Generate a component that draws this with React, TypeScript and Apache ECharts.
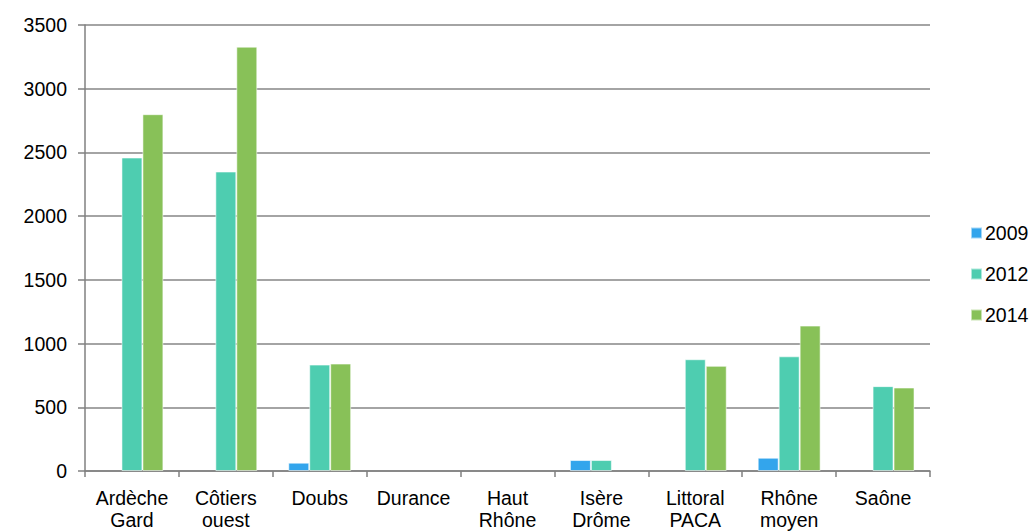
import React, { useEffect, useRef } from "react";
import * as echarts from "echarts";

const categories = [
  "Ardèche\nGard",
  "Côtiers\nouest",
  "Doubs",
  "Durance",
  "Haut\nRhône",
  "Isère\nDrôme",
  "Littoral\nPACA",
  "Rhône\nmoyen",
  "Saône",
];
const v2009 = [0, 0, 65, 0, 0, 86, 0, 104, 0];
const v2012 = [2460, 2350, 835, 0, 0, 86, 877, 900, 666];
const v2014 = [2800, 3330, 843, 0, 0, 0, 825, 1141, 655];
const yTicks = [0, 500, 1000, 1500, 2000, 2500, 3000, 3500];

export default function App() {
  const ref = useRef<HTMLDivElement>(null);
  useEffect(() => {
    if (!ref.current) return;
    const chart = echarts.init(ref.current, undefined, { renderer: "svg" });
    const font = "Liberation Sans, Arial, sans-serif";
    const fs = 19.5;
    const mk = (name: string, data: number[], color: string) => ({
      name,
      type: "bar",
      data: data.map((v) => (v === 0 ? null : v)),
      barGap: "0%",
      barCategoryGap: "33%",
      itemStyle: { color, borderColor: "rgba(255,255,255,0.55)", borderWidth: 1 },
    });
    chart.setOption({
      animation: false,
      textStyle: { fontFamily: font },
      grid: { left: 85, right: 105, top: 25, bottom: 59, containLabel: false },
      legend: {
        orient: "vertical",
        left: 965,
        top: 218,
        itemWidth: 11,
        itemHeight: 11,
        itemGap: 21,
        icon: "rect",
        textStyle: { fontSize: fs, lineHeight: 19, color: "#000", fontFamily: font, padding: [0, 0, 0, -2] },
        data: ["2009", "2012", "2014"],
      },
      xAxis: {
        type: "category",
        data: categories,
        axisLine: { lineStyle: { color: "#808080", width: 1.5 } },
        axisTick: { show: true, length: 6, lineStyle: { color: "#808080", width: 1.5 } },
        axisLabel: { fontSize: fs, color: "#000", lineHeight: 22, margin: 16, fontFamily: font, interval: 0 },
      },
      yAxis: {
        type: "value",
        min: yTicks[0],
        max: yTicks[yTicks.length - 1],
        interval: 500,
        axisLine: { show: true, lineStyle: { color: "#808080", width: 1.5 } },
        axisTick: { show: true, length: 7, lineStyle: { color: "#808080", width: 1.5 } },
        axisLabel: {
          fontSize: fs,
          color: "#000",
          margin: 18,
          fontFamily: font,
          formatter: (v: number) => String(v),
        },
        splitLine: { lineStyle: { color: "#868686", width: 1.5 } },
      },
      series: [
        mk("2009", v2009, "#33A5EC"),
        mk("2012", v2012, "#4ECDB0"),
        mk("2014", v2014, "#88C158"),
      ],
    });
    return () => chart.dispose();
  }, []);
  return (
    <div
      ref={ref}
      style={{ position: "fixed", left: 0, top: 0, width: 1035, height: 531, background: "#fff" }}
    />
  );
}
